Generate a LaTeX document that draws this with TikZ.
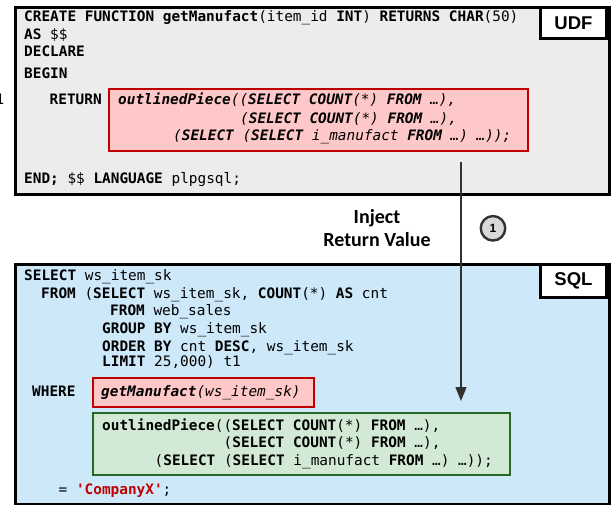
\documentclass[tikz,border=0pt]{standalone}
\usepackage{fontspec}
\setmainfont{Carlito}
\setsansfont{Liberation Sans}
\setmonofont{DejaVu Sans Mono}[BoldFont={DejaVu Sans Mono Bold},ItalicFont={DejaVu Sans Mono Oblique},BoldItalicFont={DejaVu Sans Mono Bold Oblique}]
\usetikzlibrary{arrows.meta}
\definecolor{udfgray}{RGB}{236,236,236}
\definecolor{sqlblue}{RGB}{205,232,249}
\definecolor{redfill}{RGB}{255,200,200}
\definecolor{redline}{RGB}{192,0,0}
\definecolor{greenfill}{RGB}{210,234,213}
\definecolor{greenline}{RGB}{38,106,38}
\definecolor{arrowgray}{RGB}{50,50,50}
\newcommand{\kw}[1]{\textbf{#1}}
\begin{document}
\begin{tikzpicture}[x=1pt,y=-1pt,
  code/.style={anchor=base west,inner sep=0pt,font=\ttfamily\fontsize{14.4}{16}\selectfont},
  icode/.style={code,font=\ttfamily\itshape\fontsize{14.4}{16}\selectfont},
  panel/.style={draw=black,line width=3pt,inner sep=0pt,anchor=north west},
  tagbox/.style={draw=black,line width=3pt,fill=white,inner sep=0pt,anchor=north east,font=\sffamily\bfseries\fontsize{18.5}{20}\selectfont},
  hotbox/.style={draw=redline,fill=redfill,line width=2.2pt,inner sep=0pt,anchor=north west},
  okbox/.style={draw=greenline,fill=greenfill,line width=2.2pt,inner sep=0pt,anchor=north west},
  stepmark/.style={circle,draw=arrowgray,fill=black!15,line width=2.4pt,minimum size=24.5pt,inner sep=0pt,font=\sffamily\bfseries\fontsize{12}{13}\selectfont}
]
\useasboundingbox (0,0) rectangle (611,505);

% stray clipped line number
\node[code] (stray) at (-4.5,105) {1};

% ---------------- UDF panel
\node[panel,fill=udfgray,minimum width=594pt,minimum height=187pt] (udf) at (14,6) {};
\node[tagbox,minimum width=66pt,minimum height=31pt] (udftag) at (608,6) {UDF};
\node[hotbox,minimum width=419pt,minimum height=62pt] (udfred) at (108,88) {};

\node[code] (u1) at (24,21.7) {\kw{CREATE FUNCTION getManufact}(item\_id \kw{INT}) \kw{RETURNS CHAR}(50)};
\node[code] (u2) at (24,39.3) {\kw{AS} \$\$};
\node[code] (u3) at (24,56.7) {\kw{DECLARE}};
\node[code] (u4) at (24,78.3) {\kw{BEGIN}};
\node[code] (u5) at (49.5,105) {\kw{RETURN}};
\node[icode] (r1) at (118,105) {\kw{outlinedPiece}((\kw{SELECT COUNT}(*) \kw{FROM} …),};
\node[icode] (r2) at (240,123.3) {(\kw{SELECT COUNT}(*) \kw{FROM} …),};
\node[icode] (r3) at (173,140.7) {(\kw{SELECT} (\kw{SELECT} i\_manufact \kw{FROM} …) …));};
\node[code] (u6) at (24,183.3) {\kw{END;} \$\$ \kw{LANGUAGE} plpgsql;};

% ---------------- SQL panel
\node[panel,fill=sqlblue,minimum width=594pt,minimum height=240pt] (sql) at (14,263) {};
\node[tagbox,minimum width=66pt,minimum height=33pt] (sqltag) at (608,263) {SQL};

\node[code] (s1) at (24,280.7) {\kw{SELECT} ws\_item\_sk};
\node[code] (s2) at (41,299) {\kw{FROM} (\kw{SELECT} ws\_item\_sk, \kw{COUNT}(*) \kw{AS} cnt};
\node[code] (s3) at (110,316) {\kw{FROM} web\_sales};
\node[code] (s4) at (102,334) {\kw{GROUP BY} ws\_item\_sk};
\node[code] (s5) at (102,351.3) {\kw{ORDER BY} cnt \kw{DESC}, ws\_item\_sk};
\node[code] (s6) at (102,366.7) {\kw{LIMIT} 25,000) t1};
\node[code] (s7) at (32,396.7) {\kw{WHERE}};

\node[hotbox,minimum width=221pt,minimum height=29pt] (sqlred) at (92,377) {};
\node[icode] (call) at (101,396.7) {\kw{getManufact}(ws\_item\_sk)};

\node[okbox,minimum width=417pt,minimum height=62pt] (green) at (92,412) {};
\node[code] (g1) at (102,430) {\kw{outlinedPiece}((\kw{SELECT COUNT}(*) \kw{FROM} …),};
\node[code] (g2) at (223.5,447.7) {(\kw{SELECT COUNT}(*) \kw{FROM} …),};
\node[code] (g3) at (154.5,465) {(\kw{SELECT} (\kw{SELECT} i\_manufact \kw{FROM} …) …));};
\node[code] (s8) at (58.5,494) {= \textcolor{redline}{\kw{'CompanyX'}};};

% ---------------- connector
\coordinate (astart) at (461,162);
\coordinate (aend) at (461,401);
\draw[arrowgray,line width=1.5pt,-{Triangle[length=14pt,width=11pt]}] (astart) -- (aend);

\node[align=center,inner sep=0pt,font=\bfseries\fontsize{20}{22.5}\selectfont] (inj) at (377,228) {Inject\\Return Value};
\node[stepmark] (one) at (493,228.3) {1};
\end{tikzpicture}
\end{document}
